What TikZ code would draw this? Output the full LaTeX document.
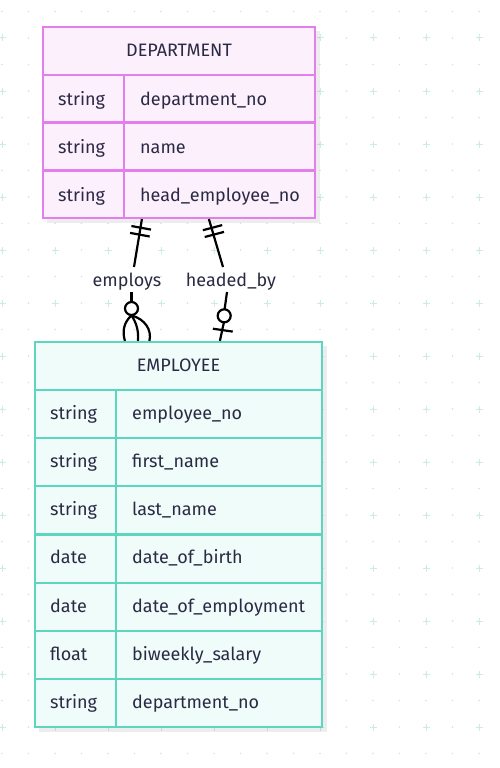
\documentclass[tikz,border=0pt]{standalone}
\usepackage{fontspec}
\setmainfont{Fira Sans}
\usetikzlibrary{calc}
\definecolor{txt}{HTML}{2A2A44}
\definecolor{deptline}{HTML}{E37EEF}
\definecolor{deptfill}{HTML}{FDF0FD}
\definecolor{empline}{HTML}{5DD5BF}
\definecolor{empfill}{HTML}{EFFCF9}
\definecolor{gridplus}{HTML}{CBEDE6}
\definecolor{griddot}{HTML}{DADFDE}
\tikzset{
  deptbox/.style={draw=deptline, fill=deptfill, line width=2.2pt, inner sep=0pt},
  empbox/.style={draw=empline, fill=empfill, line width=2.2pt, inner sep=0pt},
  deptrule/.style={draw=deptline, line width=2.2pt},
  emprule/.style={draw=empline, line width=2.2pt},
  celltext/.style={anchor=base west, inner sep=0pt, text=txt},
  headtext/.style={anchor=base, inner sep=0pt, text=txt},
  lbl/.style={anchor=base, inner sep=0pt, text=txt},
  conn/.style={draw=black, line width=2.2pt},
  shadowbox/.style={fill=black, opacity=0.07}
}
\begin{document}
\begin{tikzpicture}[x=1pt,y=-1pt, font=\fontsize{18}{21}\selectfont]
\useasboundingbox (0,0) rectangle (499,768);
\fill[white] (0,0) rectangle (499,768);
% background grid
\foreach \i in {0,...,18}{
  \foreach \j in {0,...,28}{
    \fill[griddot] ({2+26.5*\i},{11.5+26.5*\j}) circle (0.9);
  }
}
\foreach \i in {0,...,9}{
  \foreach \j in {0,...,13}{
    \draw[gridplus, line width=1pt] ({2+53*\i-3.5},{38+53*\j}) -- ({2+53*\i+3.5},{38+53*\j})
      ({2+53*\i},{38+53*\j-3.5}) -- ({2+53*\i},{38+53*\j+3.5});
  }
}
% shadows
\fill[shadowbox] (47,31) rectangle (320,223);
\fill[shadowbox] (39,346) rectangle (327,732);
% DEPARTMENT
\node[deptbox, minimum width=272pt, minimum height=191pt] (dept) at (179,122.5) {};
\draw[deptrule] (43,75) -- (315,75) (43,122.5) -- (315,122.5) (43,170.5) -- (315,170.5)
  (124,75) -- (124,218);
\node[headtext] (depth) at (179,56.5) {DEPARTMENT};
\node[celltext] (d1t) at (58,105) {string};
\node[celltext] (d1n) at (140,105) {department\_no};
\node[celltext] (d2t) at (58,153) {string};
\node[celltext] (d2n) at (140,153) {name};
\node[celltext] (d3t) at (58,201) {string};
\node[celltext] (d3n) at (140,201) {head\_employee\_no};
% EMPLOYEE
\node[empbox, minimum width=287pt, minimum height=385pt] (emp) at (178.5,534.5) {};
\foreach \k in {1,...,7}{
  \draw[emprule] (35,{342+48.125*\k}) -- (322,{342+48.125*\k});
}
\draw[emprule] (116,390.1) -- (116,727);
\node[headtext] (emph) at (178.5,371.5) {EMPLOYEE};
\node[celltext] (e1t) at (50,419.5) {string};
\node[celltext] (e1n) at (132,419.5) {employee\_no};
\node[celltext] (e2t) at (50,467.6) {string};
\node[celltext] (e2n) at (132,467.6) {first\_name};
\node[celltext] (e3t) at (50,515.7) {string};
\node[celltext] (e3n) at (132,515.7) {last\_name};
\node[celltext] (e4t) at (50,563.8) {date};
\node[celltext] (e4n) at (132,563.8) {date\_of\_birth};
\node[celltext] (e5t) at (50,612) {date};
\node[celltext] (e5n) at (132,612) {date\_of\_employment};
\node[celltext] (e6t) at (50,660.1) {float};
\node[celltext] (e6n) at (132,660.1) {biweekly\_salary};
\node[celltext] (e7t) at (50,708.2) {string};
\node[celltext] (e7n) at (132,708.2) {department\_no};
% relationship: employs
\coordinate (ea) at ($(dept.south west)+(100,0)$);
\coordinate (eb) at (134,267);
\coordinate (ec) at (131.5,292);
\coordinate (eo) at (131.5,308.5);
\coordinate (ed) at (131.5,315.5);
\node[lbl] (employs) at (127,286) {employs};
\draw[conn] (ea) -- (eb);
\draw[conn] (131.4,226.0) -- (151.0,229.6);
\draw[conn] (130.1,232.9) -- (149.7,236.5);
\draw[conn] (ec) -- (131.5,302);
\draw[conn, fill=white] (eo) circle (6.5);
\draw[conn] (ed) .. controls (124,322) and (122,331) .. ($(emp.north west)+(91,0)$);
\draw[conn] (ed) .. controls (136,322) and (139,331) .. ($(emp.north west)+(104,0)$);
\draw[conn] (ed) .. controls (145,319) and (152,330) .. ($(emp.north west)+(115.5,0)$);
% relationship: headed_by
\coordinate (ha) at ($(dept.south west)+(167,0)$);
\coordinate (hb) at (223,267);
\coordinate (hc) at (227,292);
\coordinate (ho) at (224.2,315.8);
\node[lbl] (headed) at (231,286) {headed\_by};
\draw[conn] (ha) -- (hb);
\draw[conn] (202.9,230.2) -- (222.2,225.1);
\draw[conn] (204.7,237.0) -- (224.0,231.9);
\draw[conn] (hc) -- (224.6,309.3);
\draw[conn, fill=white] (ho) circle (6.5);
\draw[conn] (223.9,322.3) -- ($(emp.north west)+(186,0)$);
\draw[conn] (212.9,328.7) -- (232.7,331.6);
\end{tikzpicture}
\end{document}
